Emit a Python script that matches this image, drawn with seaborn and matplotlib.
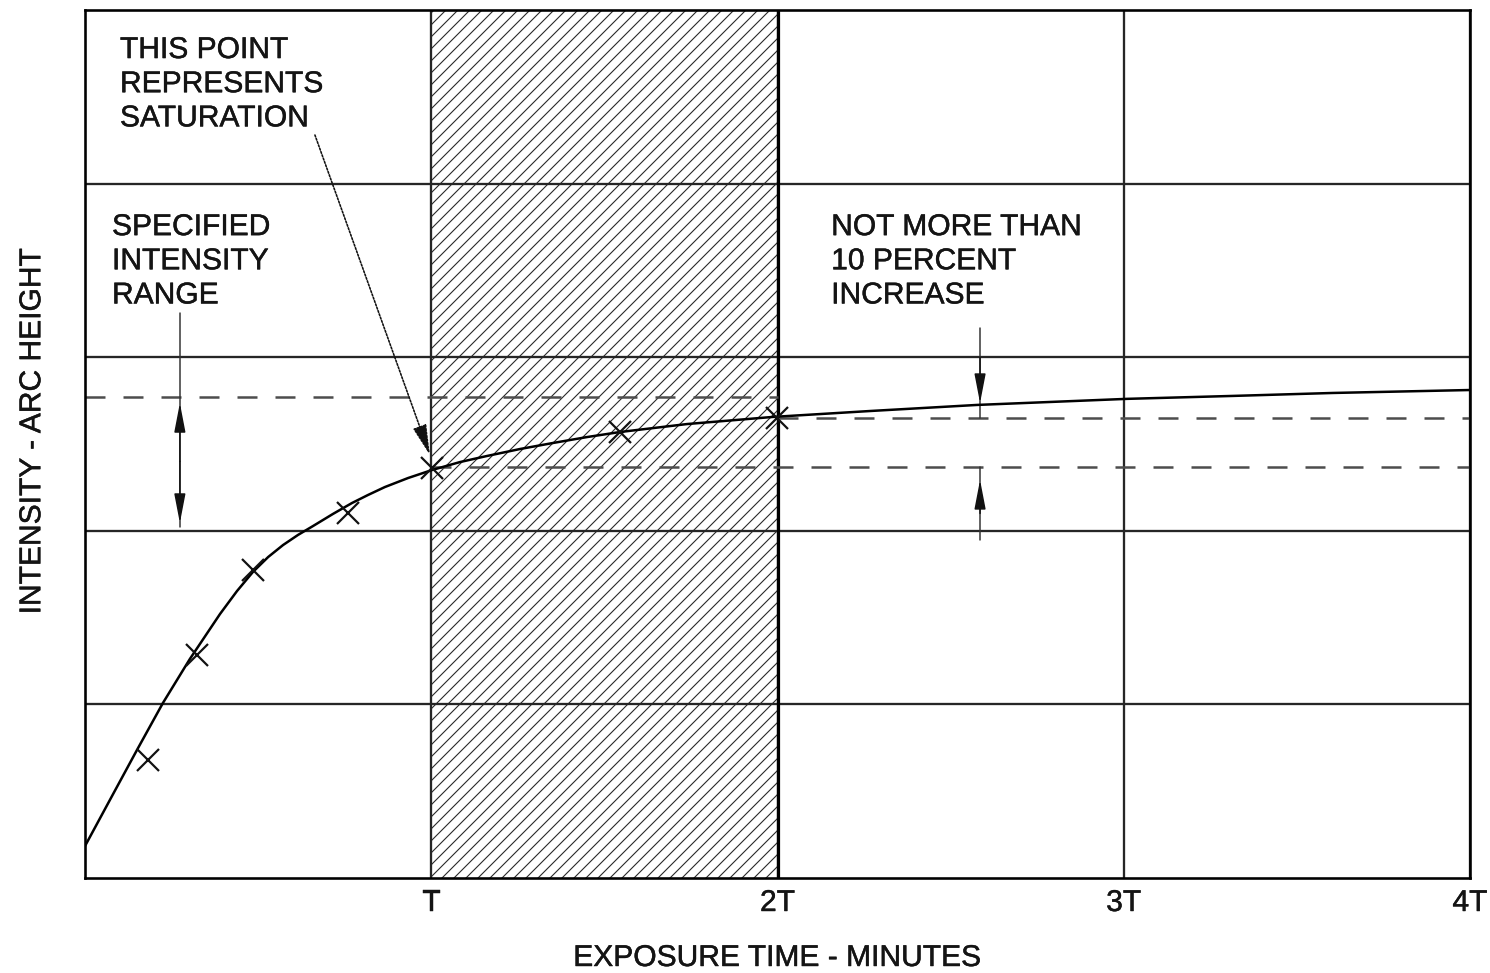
import matplotlib
matplotlib.use("Agg")
import matplotlib.pyplot as plt
import matplotlib.patheffects as pe
import seaborn as sns

# Exposure time in multiples of T, intensity (arc height) along the saturation curve
curve_time = [0.000, 0.075, 0.150, 0.225, 0.303, 0.390, 0.439, 0.485, 0.529, 0.572,
              0.615, 0.659, 0.716, 0.771, 0.817, 0.866, 0.933, 1.002, 1.083, 1.161,
              1.256, 1.352, 1.450, 1.545, 1.739, 1.987, 2.267, 2.576, 3.009, 3.316,
              3.604, 4.000]
curve_intensity = [0.184, 0.461, 0.737, 1.008, 1.262, 1.521, 1.653, 1.763, 1.849, 1.918,
                   1.976, 2.028, 2.097, 2.160, 2.206, 2.252, 2.304, 2.350, 2.396, 2.431,
                   2.471, 2.506, 2.540, 2.569, 2.615, 2.656, 2.690, 2.725, 2.760, 2.777,
                   2.794, 2.811]

# Measured arc heights
meas_time = [0.182, 0.323, 0.485, 0.760, 1.002, 1.545, 1.999]
meas_intensity = [0.680, 1.285, 1.774, 2.103, 2.362, 2.569, 2.650]

tick_pos = [1, 2, 3, 4]
tick_labels = ["T", "2T", "3T", "4T"]
grid_levels = [1, 2, 3, 4]

# Reference levels (dashed)
range_top = 2.771         # upper limit of specified intensity range
saturation_level = 2.367  # intensity at T
double_time_level = 2.650  # intensity at 2T

sns.set_theme(style="white")
plt.rcParams["font.family"] = ["Liberation Sans", "DejaVu Sans"]
plt.rcParams["hatch.linewidth"] = 1.1

W, H, DPI = 1490, 973, 72
fig = plt.figure(figsize=(W / DPI, H / DPI), dpi=DPI)
ax = fig.add_axes([85 / W, 95 / H, 1385 / W, 868 / H])
ax.set_xlim(0, 4)
ax.set_ylim(0, 5)

txt = "#141414"
fs = 30
heavy = [pe.withStroke(linewidth=0.45, foreground=txt)]

# Hatched band between T and 2T
ax.axvspan(1, 2, facecolor="none", edgecolor="#2a2a2a", hatch="//", linewidth=0, zorder=1)

# Grid
ax.set_xticks(tick_pos)
ax.set_xticklabels(tick_labels, fontsize=fs, color=txt, path_effects=heavy)
ax.set_yticks(grid_levels)
ax.set_yticklabels([])
ax.tick_params(axis="both", length=0)
ax.tick_params(axis="x", pad=11)
ax.set_axisbelow(False)
ax.grid(True, color="#262626", linewidth=2.3)
ax.axvline(2, color="black", linewidth=3.2, zorder=3)
for s in ax.spines.values():
    s.set_color("black")
    s.set_linewidth(2.6)
    s.set_zorder(5)

# Dashed reference levels
dash = (0, (8, 7.2))
dash_kw = dict(colors="#4d4d4d", linewidth=2.5, linestyles=[dash], zorder=3)
ax.hlines(range_top, 0, 2, **dash_kw)
ax.hlines(saturation_level, 1, 4, **dash_kw)
ax.hlines(double_time_level, 2, 4, **dash_kw)

# Saturation curve and measured points
sns.lineplot(x=curve_time, y=curve_intensity, ax=ax, color="black", linewidth=2.5,
             sort=False, zorder=4)
ax.plot(meas_time, meas_intensity, linestyle="none", marker="x", markersize=22,
        markeredgewidth=2.2, color="#111111", zorder=4)

# Annotations
note_kw = dict(fontsize=fs, color=txt, ha="left", va="top", linespacing=1.28,
               path_effects=heavy)
ax.text(0.101, 4.85, "THIS POINT\nREPRESENTS\nSATURATION", **note_kw)
ax.text(0.078, 3.83, "SPECIFIED\nINTENSITY\nRANGE", **note_kw)
ax.text(2.155, 3.83, "NOT MORE THAN\n10 PERCENT\nINCREASE", **note_kw)

head = "-|>,head_length=1.25,head_width=0.24"

# Arrow pointing to the saturation point at T
ax.annotate("", xy=(0.996, 2.437), xytext=(0.664, 4.28),
            arrowprops=dict(arrowstyle="-|>,head_length=1.3,head_width=0.3",
                            color="#111111", lw=1.6, linestyle=(0, (1.2, 1.0)),
                            shrinkA=0, shrinkB=0, mutation_scale=20))

# Specified intensity range indicator
x_rng = 0.274
ax.plot([x_rng, x_rng], [3.255, 2.02], color="#333333", linewidth=1.5, zorder=3)
ax.annotate("", xy=(x_rng, range_top - 0.035), xytext=(x_rng, 2.4),
            arrowprops=dict(arrowstyle=head, color="#111111", lw=1.5,
                            shrinkA=0, shrinkB=0, mutation_scale=20))
ax.annotate("", xy=(x_rng, 2.045), xytext=(x_rng, 2.4),
            arrowprops=dict(arrowstyle=head, color="#111111", lw=1.5,
                            shrinkA=0, shrinkB=0, mutation_scale=20))

# Ten percent increase indicator
x_inc = 2.585
ax.plot([x_inc, x_inc], [3.168, double_time_level], color="#333333", linewidth=1.5, zorder=3)
ax.annotate("", xy=(x_inc, 2.736), xytext=(x_inc, 3.0),
            arrowprops=dict(arrowstyle=head, color="#111111", lw=1.5,
                            shrinkA=0, shrinkB=0, mutation_scale=20))
ax.plot([x_inc, x_inc], [saturation_level, 1.947], color="#333333", linewidth=1.5, zorder=3)
ax.annotate("", xy=(x_inc, 2.293), xytext=(x_inc, 2.1),
            arrowprops=dict(arrowstyle=head, color="#111111", lw=1.5,
                            shrinkA=0, shrinkB=0, mutation_scale=20))

ax.set_xlabel("EXPOSURE TIME - MINUTES", fontsize=fs, color=txt, labelpad=27,
              path_effects=heavy)
ax.set_ylabel("INTENSITY - ARC HEIGHT", fontsize=fs, color=txt, path_effects=heavy)
ax.yaxis.set_label_coords(-0.028, 0.515)

fig.savefig("out.png", dpi=DPI, facecolor="white")
